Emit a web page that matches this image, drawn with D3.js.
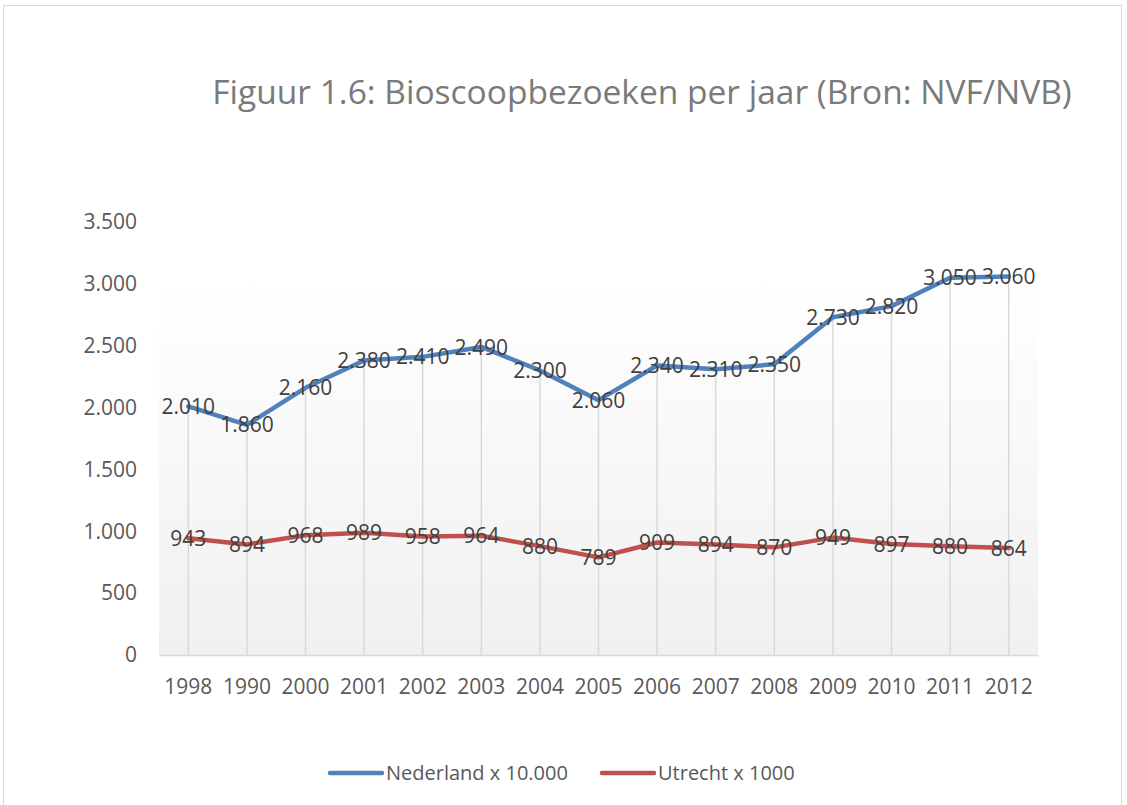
<!DOCTYPE html>
<html>
<head>
<meta charset="utf-8">
<script src="https://cdn.jsdelivr.net/npm/d3@7"></script>
<style>
  body { margin: 0; background: #fff; }
  svg text { font-family: "Open Sans", sans-serif; }
</style>
</head>
<body>
<div id="viz"></div>
<script>
const years = ['1998', '1990', '2000', '2001', '2002', '2003', '2004', '2005', '2006', '2007', '2008', '2009', '2010', '2011', '2012'];
const nederland = [2010, 1860, 2160, 2380, 2410, 2490, 2300, 2060, 2340, 2310, 2350, 2730, 2820, 3050, 3060];
const utrecht = [943, 894, 968, 989, 958, 964, 880, 789, 909, 894, 870, 949, 897, 880, 864];
const yTickValues = [0, 500, 1000, 1500, 2000, 2500, 3000, 3500];
const seriesNames = ['Nederland x 10.000', 'Utrecht x 1000'];

const width = 1127;
const height = 805;
const margin = { top: 222, right: 89, bottom: 150, left: 159 };
const plotWidth = width - margin.left - margin.right;
const plotHeight = height - margin.top - margin.bottom;

// dutch number format: dot as thousands separator
const nl = d3.formatLocale({ decimal: ',', thousands: '.', grouping: [3], currency: ['€', ''] });
const fmt = nl.format(',d');

const x = d3.scaleBand()
            .domain(years)
            .range([0, plotWidth]);

const y = d3.scaleLinear()
            .domain([0, 3500])
            .range([plotHeight, 0]);

const svg = d3.select('#viz')
              .append('svg')
              .attr('width', width)
              .attr('height', height);

// chart border
svg.append('rect')
   .attr('x', 3.5).attr('y', 5.5)
   .attr('width', 1118).attr('height', 805)
   .attr('fill', 'none')
   .attr('stroke', '#d9d9d9');

const defs = svg.append('defs');
const grad = defs.append('linearGradient')
                 .attr('id', 'bg')
                 .attr('x1', 0).attr('y1', 0).attr('x2', 0).attr('y2', 1);
grad.append('stop').attr('offset', '0%').attr('stop-color', '#ffffff');
grad.append('stop').attr('offset', '100%').attr('stop-color', '#f0f0f0');

svg.append('text')
   .attr('x', 642)
   .attr('y', 104)
   .attr('text-anchor', 'middle')
   .attr('fill', '#7a7a7a')
   .style('font-size', '33.5px')
   .text('Figuur 1.6: Bioscoopbezoeken per jaar (Bron: NVF/NVB)');

const g = svg.append('g')
             .attr('transform', `translate(${margin.left}, ${margin.top})`);

g.append('rect')
 .attr('x', 0).attr('y', y(3000) - 4)
 .attr('width', plotWidth)
 .attr('height', plotHeight - y(3000) + 4)
 .attr('fill', 'url(#bg)');

const cx = (i) => x(years[i]) + x.bandwidth() / 2;

// drop lines from the highest series to the axis
g.selectAll('.drop')
 .data(nederland)
 .enter().append('line')
   .attr('class', 'drop')
   .attr('x1', (d, i) => cx(i))
   .attr('x2', (d, i) => cx(i))
   .attr('y1', (d) => y(d))
   .attr('y2', plotHeight)
   .attr('stroke', '#d9d9d9')
   .attr('stroke-width', 1.5);

// x axis
const xAxis = g.append('g')
               .attr('transform', `translate(0, ${plotHeight})`)
               .call(d3.axisBottom(x).tickSize(0).tickPadding(24));
xAxis.select('.domain').attr('stroke', '#d9d9d9').attr('stroke-width', 1.5);
xAxis.selectAll('text').attr('fill', '#595959').style('font-size', '21px').style('font-family', '"Open Sans", sans-serif');

// y axis (labels only)
const yAxis = g.append('g')
               .call(d3.axisLeft(y).tickValues(yTickValues).tickFormat(fmt).tickSize(0).tickPadding(22));
yAxis.select('.domain').remove();
yAxis.selectAll('text').attr('fill', '#595959').style('font-size', '21px').style('font-family', '"Open Sans", sans-serif');

const line = d3.line()
               .x((d, i) => cx(i))
               .y((d) => y(d));

const series = [
  { name: seriesNames[0], values: nederland, color: '#4f81bd' },
  { name: seriesNames[1], values: utrecht, color: '#c0504d' }
];

series.forEach((s) => {
  g.append('path')
   .datum(s.values)
   .attr('d', line)
   .attr('fill', 'none')
   .attr('stroke', s.color)
   .attr('stroke-width', 4.5)
   .attr('stroke-linejoin', 'round')
   .attr('stroke-linecap', 'round');
});

series.forEach((s) => {
  g.selectAll(null)
   .data(s.values)
   .enter().append('text')
     .attr('x', (d, i) => cx(i))
     .attr('y', (d) => y(d))
     .attr('dy', '0.36em')
     .attr('text-anchor', 'middle')
     .attr('fill', '#404040')
     .style('font-size', '21px')
     .text((d) => fmt(d));
});

// legend
const legend = svg.append('g').attr('transform', 'translate(0, 773)');
const legendX = [330, 602];
series.forEach((s, i) => {
  legend.append('line')
        .attr('x1', legendX[i]).attr('x2', legendX[i] + 52)
        .attr('y1', 0).attr('y2', 0)
        .attr('stroke', s.color)
        .attr('stroke-width', 4.5)
        .attr('stroke-linecap', 'round');
  legend.append('text')
        .attr('x', legendX[i] + 56)
        .attr('y', 0)
        .attr('dy', '0.36em')
        .attr('fill', '#595959')
        .style('font-size', '20px')
        .text(s.name);
});
</script>
</body>
</html>
